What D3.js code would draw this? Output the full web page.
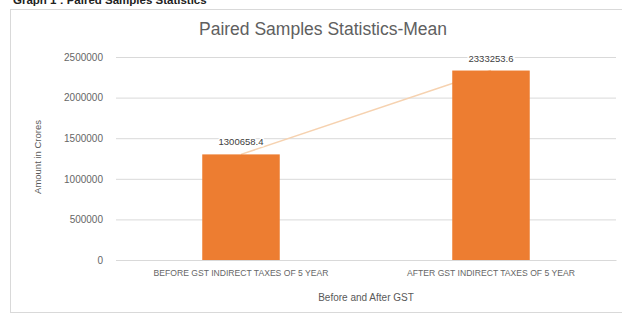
<!DOCTYPE html>
<html><head><meta charset="utf-8">
<script src="https://cdn.jsdelivr.net/npm/d3@7"></script>
<style>body{margin:0;background:#fff}svg{display:block}text{font-family:"Liberation Sans",Arial,sans-serif}</style>
</head><body>
<svg id="c" width="622" height="315"></svg>
<script>
const categories = ["BEFORE GST INDIRECT TAXES OF 5 YEAR", "AFTER GST INDIRECT TAXES OF 5 YEAR"];
const means = [1300658.4, 2333253.6];
const labels = ["1300658.4", "2333253.6"];
const yTicks = [0, 500000, 1000000, 1500000, 2000000, 2500000];
const title = "Paired Samples Statistics-Mean";
const header = "Graph 1 : Paired Samples Statistics";
const xTitle = "Before and After GST";
const yTitle = "Amount in Crores";

const svg = d3.select("#c");
const m = {left:116, right:616, top:57, bottom:260};
const x = d3.scaleBand().domain(categories).range([m.left, m.right]).paddingInner(0.69).paddingOuter(0.345);
const y = d3.scaleLinear().domain([0, 2500000]).range([m.bottom, m.top]);

// header (cut off at top, as in the source)
svg.append("text").attr("x", 13).attr("y", 4).attr("font-family","Liberation Serif").attr("font-weight","bold")
  .attr("font-size", 11.5).attr("fill","#222").text(header);
// chart frame
svg.append("rect").attr("x",10.5).attr("y",9.5).attr("width",640).attr("height",303).attr("fill","none").attr("stroke","#d9d9d9");

svg.append("text").attr("x", 323).attr("y", 35).attr("text-anchor","middle").attr("font-family","Open Sans")
  .attr("font-size",17.5).attr("fill","#606060").text(title);

// grid + y axis
const ya = svg.append("g").attr("transform",`translate(${m.left},0)`)
  .call(d3.axisLeft(y).tickValues(yTicks).tickFormat(d3.format("d")).tickSize(-(m.right-m.left)).tickPadding(13));
ya.select(".domain").remove();
ya.selectAll(".tick line").attr("stroke","#d9d9d9");
ya.selectAll(".tick text").attr("fill","#666").attr("font-size",10).attr("font-family","Liberation Sans");

// x axis
const xa = svg.append("g").attr("transform",`translate(0,${m.bottom})`)
  .call(d3.axisBottom(x).tickSize(0).tickPadding(10));
xa.select(".domain").attr("stroke","#d9d9d9");
xa.selectAll(".tick text").attr("fill","#666").attr("font-size",8.6).attr("font-family","Liberation Sans");

// connecting line
const cx = d => x(d) + x.bandwidth()/2;
svg.append("path").datum(categories.map((c,i)=>[cx(c), y(means[i])]))
  .attr("d", d3.line()).attr("stroke","#f6d2b0").attr("stroke-width",1.5).attr("fill","none");

// bars
svg.selectAll("rect.bar").data(categories).join("rect").attr("class","bar")
  .attr("x", d=>x(d)).attr("width", x.bandwidth())
  .attr("y", (d,i)=>y(means[i])).attr("height", (d,i)=>y(0)-y(means[i]))
  .attr("fill","#ED7D31");

// data labels
svg.selectAll("text.lbl").data(categories).join("text").attr("class","lbl")
  .attr("x", cx).attr("y", (d,i)=>y(means[i]) - 9).attr("text-anchor","middle")
  .attr("font-size",9.5).attr("fill","#404040")
  .attr("stroke","#fff").attr("stroke-width",3).attr("paint-order","stroke")
  .text((d,i)=>labels[i]);

svg.append("text").attr("x", (m.left+m.right)/2).attr("y", 301).attr("text-anchor","middle")
  .attr("font-size",10).attr("fill","#595959").text(xTitle);
svg.append("text").attr("transform","translate(41,157) rotate(-90)").attr("text-anchor","middle")
  .attr("font-size",9.5).attr("fill","#595959").text(yTitle);
</script>
</body></html>
